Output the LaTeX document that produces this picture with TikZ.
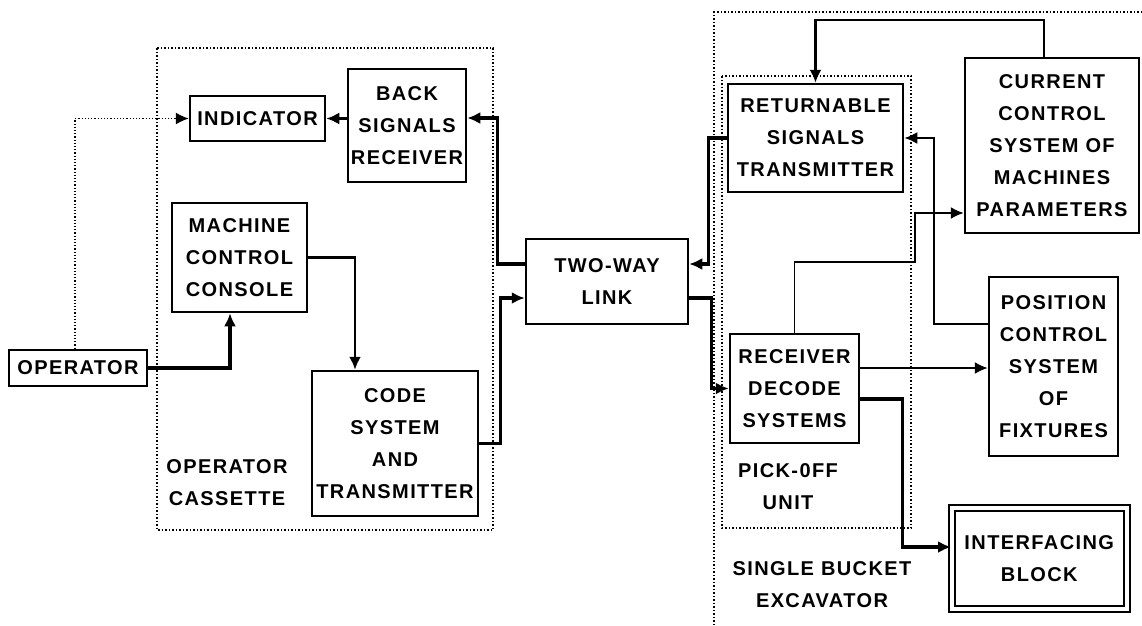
\documentclass[tikz,border=0pt]{standalone}
\usepackage{fontspec}
\setmainfont{Liberation Sans}[LetterSpace=7]
\usetikzlibrary{arrows.meta}
\newcommand\blocktext{\bfseries\fontsize{20}{32}\selectfont}

\begin{document}
\begin{tikzpicture}
    [x=1pt,y=-1pt,>={Latex[length=13pt,width=12pt]},
     block/.style={draw,line width=2.5pt,align=center,inner sep=0pt,font=\blocktext},
     unitname/.style={align=center,font=\blocktext},
     heavy/.style={line width=3.2pt},
     medium/.style={line width=2.4pt},
     light/.style={line width=1.8pt},
     unitframe/.style={dotted,line width=1.5pt}]
    \useasboundingbox (0,0) rectangle (1142,625);
    % frames
    \draw[unitframe] (157,48) rectangle (493,530);
    \draw[unitframe] (722,76) rectangle (911,528);
    \draw[unitframe] (714,625) -- (714,12) -- (1142,12);
    \node[unitname] (cassette) at (227,483) {OPERATOR\\CASSETTE};
    \node[unitname] (pickoff) at (788,487) {PICK-0FF\\UNIT};
    \node[unitname] (excavator) at (822,585) {SINGLE BUCKET\\EXCAVATOR};
    % operator side
    \node[block,minimum width=138,minimum height=36] (operator) at (78,368) {OPERATOR};
    \node[block,minimum width=135,minimum height=45] (indicator) at (257.5,118.5) {INDICATOR};
    \node[block,minimum width=118,minimum height=113] (backsig) at (407,125.5) {BACK\\SIGNALS\\RECEIVER};
    \node[block,minimum width=135,minimum height=109] (console) at (239.5,257.5) {MACHINE\\CONTROL\\CONSOLE};
    \node[block,minimum width=166,minimum height=145] (code) at (395,443.5) {CODE\\SYSTEM\\AND\\TRANSMITTER};
    % link
    \node[block,minimum width=162,minimum height=85] (link) at (607,281.5) {TWO-WAY\\LINK};
    % excavator side
    \node[block,minimum width=175,minimum height=108] (returnable) at (815.5,138) {RETURNABLE\\SIGNALS\\TRANSMITTER};
    \node[block,minimum width=129,minimum height=109] (receiver) at (794.5,388.5) {RECEIVER\\DECODE\\SYSTEMS};
    \node[block,minimum width=174,minimum height=175] (current) at (1052,145.5) {CURRENT\\CONTROL\\SYSTEM OF\\MACHINES\\PARAMETERS};
    \node[block,minimum width=129,minimum height=179] (position) at (1053.5,366.5) {POSITION\\CONTROL\\SYSTEM\\OF\\FIXTURES};
    \node[block,line width=2pt,double,double distance=4pt,minimum width=174.5,minimum height=101] (interfacing) at (1039.25,558.5) {INTERFACING\\BLOCK};
    % connectors, operator side
    \draw[unitframe,line width=1.2pt,->] ([xshift=-3pt]operator.north) |- (indicator.west);
    \draw[heavy,->] (operator.east) -| ([xshift=-9.5pt]console.south);
    \draw[medium,->] (console.east) -| ([xshift=-40pt]code.north);
    \draw[heavy,->] (code.east) -- ++(21,0) |- ([yshift=-16.5pt]link.west);
    \draw[heavy,->] ([yshift=17.5pt]link.west) -- ++(-27,0) |- ([yshift=7.5pt]backsig.east);
    \draw[medium,->] (backsig.west |- indicator.east) -- (indicator.east);
    % connectors, excavator side
    \draw[heavy,->] (returnable.west) -- ++(-18,0) |- ([yshift=17.5pt]link.east);
    \draw[heavy,->] ([yshift=-16.5pt]link.east) -- ++(22,0) |- (receiver.west);
    \draw[medium,->] ([xshift=-8pt]current.north) -- ++(0,-37) -| (returnable.north);
    \draw[medium,->] ([yshift=42.5pt]position.west) -- ++(-54,0) |- (returnable.east);
    \draw[light,->] (receiver.north) |- (915,262) |- ([yshift=-67.5pt]current.west);
    \draw[light,->] ([yshift=20.5pt]receiver.east) -- ([yshift=20.5pt]receiver.east -| position.west);
    \draw[heavy,->] ([yshift=-10.5pt]receiver.east) -- ++(42,0) |- ([yshift=11.5pt]interfacing.west);
\end{tikzpicture}
\end{document}
